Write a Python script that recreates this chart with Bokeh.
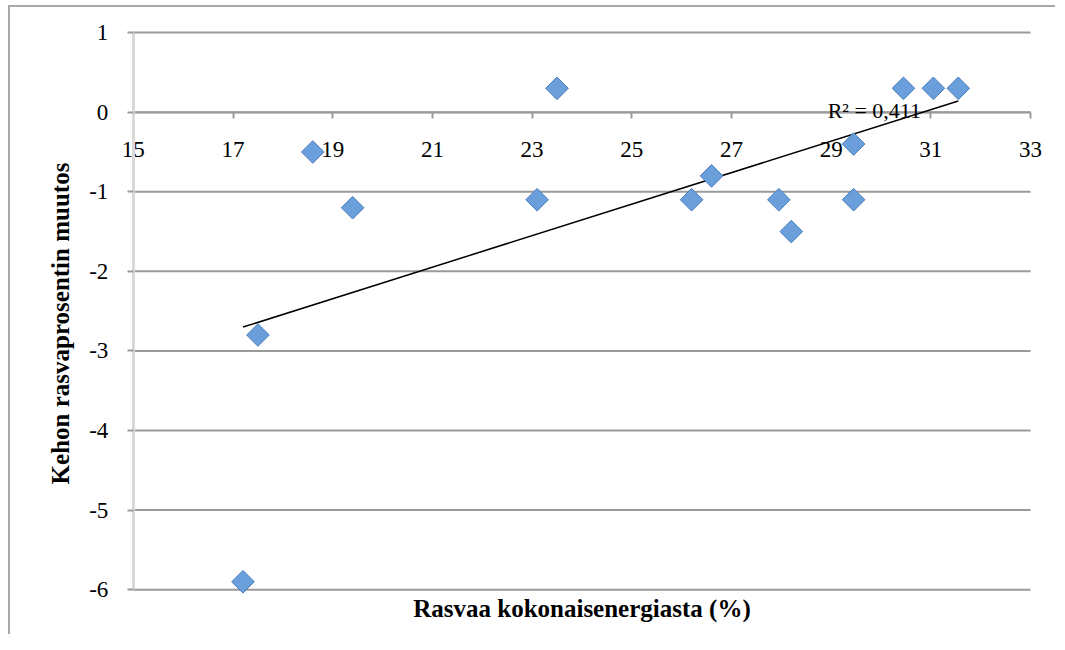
import numpy as np
from bokeh.plotting import figure
from bokeh.models import Range1d, LinearAxis, FixedTicker, Title, Label
from bokeh.embed import file_html
from bokeh.resources import INLINE

# ---- data ----
fat_pct = [17.2, 17.5, 18.6, 19.4, 23.1, 23.5, 26.2, 26.6, 27.95, 28.2, 29.45, 29.45, 30.45, 31.05, 31.55]
bodyfat_change = [-5.9, -2.8, -0.5, -1.2, -1.1, 0.3, -1.1, -0.8, -1.1, -1.5, -0.4, -1.1, 0.3, 0.3, 0.3]
x_ticks = [15, 17, 19, 21, 23, 25, 27, 29, 31, 33]
y_ticks = [-6, -5, -4, -3, -2, -1, 0, 1]
x_tick_labels = [str(v) for v in x_ticks]
y_tick_labels = [str(v) for v in y_ticks]
x_title = "Rasvaa kokonaisenergiasta (%)"
y_title = "Kehon rasvaprosentin muutos"
r2_text = "R\u00b2 = 0,411"

FONT = "Liberation Serif"
GRID = "#9a9a9a"
X0, X1 = x_ticks[0], x_ticks[-1]
Y0, Y1 = y_ticks[0], y_ticks[-1]
# the frame is larger than the axes so that the axis labels (which sit inside it) are not clipped
XLO, XHI = X0 - 1.1, X1 + 0.4
YLO, YHI = Y0 - 0.5, Y1 + 0.19
PX_PER_X, PX_PER_Y = 49.83, 79.57
FW, FH = round((XHI - XLO) * PX_PER_X), round((YHI - YLO) * PX_PER_Y)

p = figure(frame_width=FW, frame_height=FH,
           min_border_left=68, min_border_top=10, min_border_right=5, min_border_bottom=5,
           x_range=Range1d(XLO, XHI), y_range=Range1d(YLO, YHI),
           x_axis_location=None, y_axis_location=None,
           output_backend="svg", toolbar_location=None,
           background_fill_color="white", border_fill_color="white")
p.outline_line_color = None
p.xgrid.visible = False
p.ygrid.visible = False
p.styles = {"border-left": "2px solid #a8a8a8", "border-top": "2px solid #a8a8a8",
            "margin-left": "8px", "margin-top": "5px"}

# horizontal gridlines over the axis extent
p.segment(x0=X0, x1=X1, y0=y_ticks, y1=y_ticks, line_color=GRID, line_width=2)

# x axis crossing at y = 0
xa = LinearAxis(fixed_location=0, ticker=FixedTicker(ticks=x_ticks), bounds=(X0, X1))
xa.major_label_overrides = dict(zip(x_ticks, x_tick_labels))
xa.axis_line_color = GRID
xa.axis_line_width = 2
xa.major_tick_line_color = GRID
xa.major_tick_line_width = 2
xa.major_tick_out = 6
xa.major_tick_in = 0
xa.minor_tick_line_color = None
xa.major_label_standoff = 24
xa.major_label_text_font = FONT
xa.major_label_text_font_size = "23px"
xa.major_label_text_color = "black"
p.add_layout(xa, "below")

# y axis at x = 15
ya = LinearAxis(fixed_location=X0, ticker=FixedTicker(ticks=y_ticks), bounds=(Y0, Y1))
ya.major_label_overrides = dict(zip(y_ticks, y_tick_labels))
ya.axis_line_color = "#d9d9d9"
ya.axis_line_width = 3
ya.major_tick_line_color = GRID
ya.major_tick_line_width = 2
ya.major_tick_out = 6
ya.major_tick_in = 0
ya.minor_tick_line_color = None
ya.major_label_standoff = 19
ya.major_label_text_font = FONT
ya.major_label_text_font_size = "23px"
ya.major_label_text_color = "black"
p.add_layout(ya, "left")

# axis titles
p.add_layout(Title(text=y_title, align="center", text_font=FONT, text_font_size="25px",
                   text_font_style="bold", text_color="black", standoff=9,
                   offset=round(((Y0 - YLO) - (YHI - Y1)) / 2 * PX_PER_Y)), "left")
p.add_layout(Label(x=(X0 + X1) / 2, y=Y0, y_offset=-19, text=x_title, text_align="center",
                   text_baseline="middle", text_font=FONT, text_font_size="25px",
                   text_font_style="bold", text_color="black"))

# linear trend line
slope, intercept = np.polyfit(fat_pct, bodyfat_change, 1)
tx = [min(fat_pct), max(fat_pct)]
ty = [slope * v + intercept for v in tx]
p.line(tx, ty, line_color="black", line_width=1.5, level="overlay")

p.scatter(fat_pct, bodyfat_change, marker="square", angle=np.pi / 4, size=16,
          fill_color="#6b9fdb", line_color="#4a7ebb", line_width=1, level="overlay")

p.add_layout(Label(x=tx[1] - 2.62, y=0, text=r2_text, text_font=FONT, text_font_size="22px",
                   text_color="black", text_baseline="alphabetic", y_offset=2))

open("out.html", "w").write(file_html(p, INLINE))
